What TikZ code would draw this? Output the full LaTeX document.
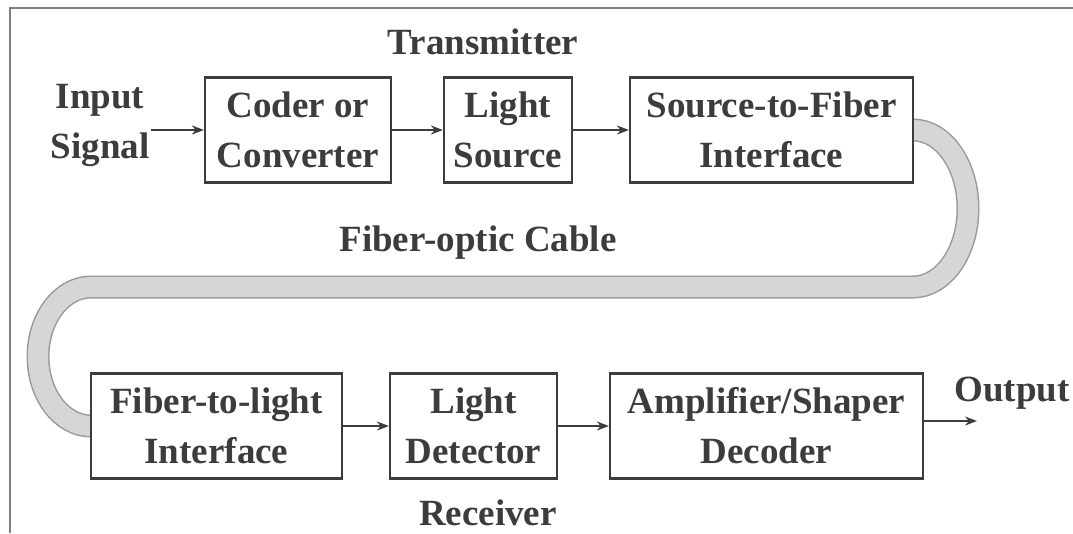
\documentclass[tikz,border=0pt]{standalone}
\usepackage{fontspec}
\setmainfont{Liberation Serif}
\usetikzlibrary{arrows.meta}
\definecolor{ink}{HTML}{3C3C3C}
\definecolor{fibfill}{HTML}{D6D6D6}
\definecolor{fibedge}{HTML}{9A9A9A}
\tikzset{
  txt/.style={font=\fontsize{37}{50}\selectfont\bfseries, text=ink, align=center, inner sep=1pt},
  blk/.style={txt, draw=ink, line width=2.2pt, fill=white, minimum height=105pt, inner sep=0pt},
  arr/.style={draw=ink, line width=2pt, -{Stealth[length=12pt,width=9pt]}},
  fibo/.style={draw=fibedge, line width=23pt},
  fibi/.style={draw=fibfill, line width=20pt},
  frame/.style={draw=gray, line width=2pt}
}
\begin{document}
\begin{tikzpicture}[x=1pt,y=-1pt]
\useasboundingbox (0,0) rectangle (1073,533);
\draw[frame] (10,533) -- (10,8) -- (1073,8);

% labels
\node[txt] (tx) at (483,42) {Transmitter};
\node[txt] (fc) at (478,243) {Fiber-optic Cable};
\node[txt] (rx) at (488,513) {Receiver};
\node[txt] (in) at (100,125) {Input\\Signal};
\node[txt] (out) at (1012,393) {Output};

% fiber band (drawn under boxes)
\coordinate (f0) at (913,130);
\coordinate (f1) at (91,287);
\foreach \s in {fibo,fibi}{
  \draw[\s] (f0) arc[start angle=-90,end angle=90,x radius=55,y radius=78.5]
     -- (f1) arc[start angle=-90,end angle=-270,x radius=53,y radius=69.5];
}

% boxes
\node[blk, minimum width=186pt] (b1) at (298,130) {Coder or\\Converter};
\node[blk, minimum width=128pt] (b2) at (508,130) {Light\\Source};
\node[blk, minimum width=283pt] (b3) at (771.5,130) {Source-to-Fiber\\Interface};
\node[blk, minimum width=251pt] (b4) at (216.5,426) {Fiber-to-light\\Interface};
\node[blk, minimum width=167pt] (b5) at (473.5,426) {Light\\Detector};
\node[blk, minimum width=313pt] (b6) at (766.5,426) {Amplifier/Shaper\\Decoder};
\coordinate (oe) at (977,421);

% arrows
\draw[arr] (in.east |- b1.west) -- (b1.west);
\draw[arr] (b1) -- (b2);
\draw[arr] (b2) -- (b3);
\draw[arr] (b4) -- (b5);
\draw[arr] (b5) -- (b6);
\draw[arr] (b6.east |- oe) -- (oe);
\end{tikzpicture}
\end{document}
